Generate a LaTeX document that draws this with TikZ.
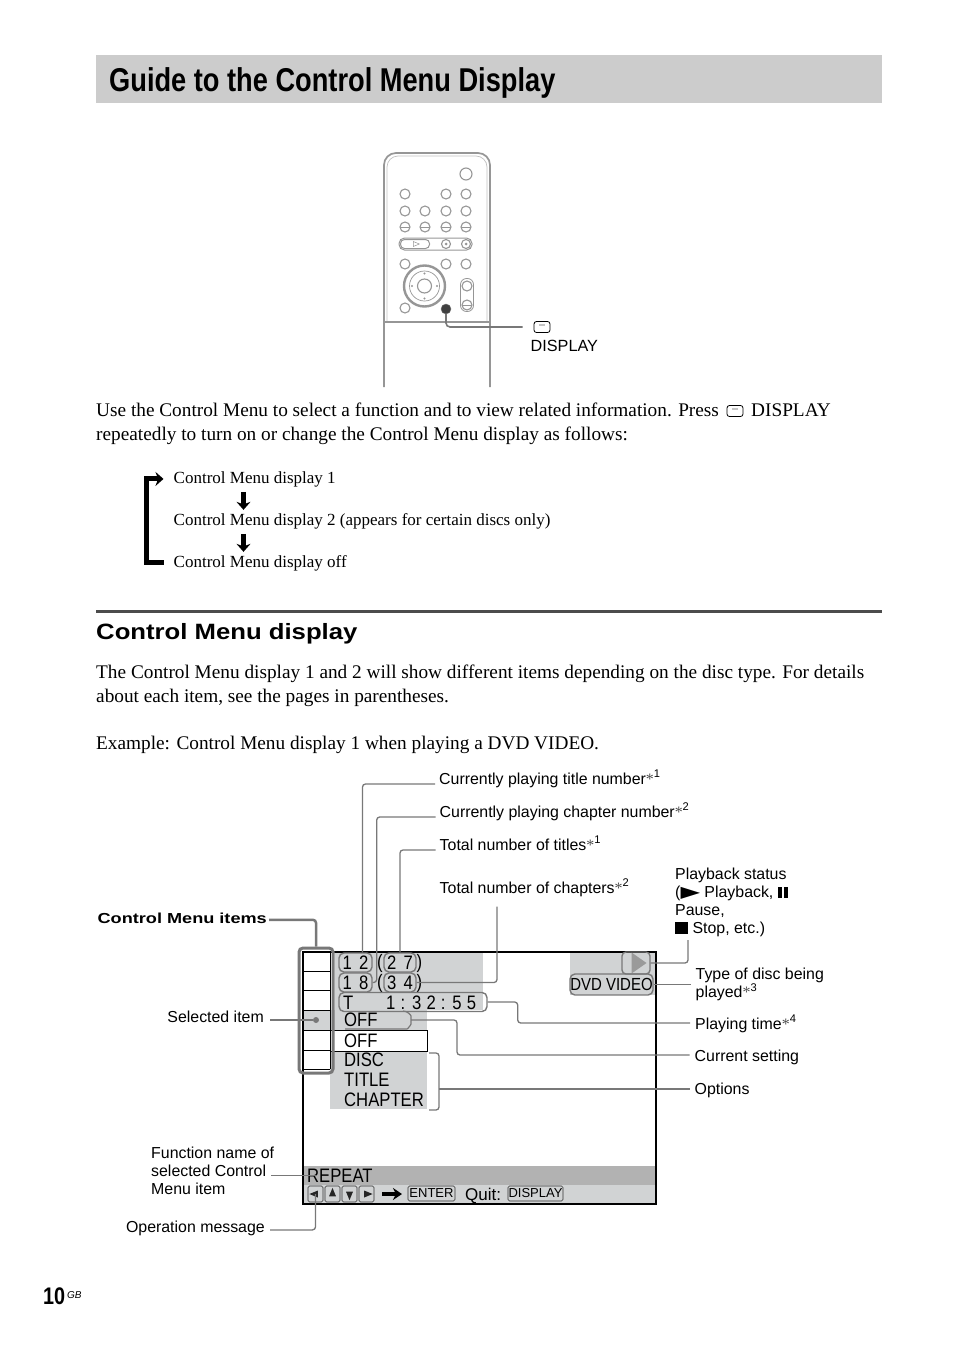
\documentclass[tikz,border=0pt]{standalone}
\usepackage{fontspec}
\setmainfont{Liberation Serif}
\setsansfont{Liberation Sans}
\newfontfamily\titlefont[FakeStretch=0.825]{Liberation Sans}
\newfontfamily\wideheadfont[FakeStretch=1.16]{Liberation Sans}
\newfontfamily\itemsfont[FakeStretch=1.25]{Liberation Sans}
\newfontfamily\osdfont[FakeStretch=0.855]{Liberation Sans}
\newfontfamily\symfont{DejaVu Sans}
\usetikzlibrary{arrows.meta,calc,positioning,shapes.geometric}
\definecolor{BandGray}{RGB}{204,204,204}
\definecolor{LeadGray}{RGB}{120,120,120}
\definecolor{PanelGray}{RGB}{209,211,212}
\definecolor{RepeatGray}{RGB}{178,178,178}
\definecolor{RemoteGray}{RGB}{150,150,150}
\newcommand{\lab}[1]{\fontsize{#1}{18}\selectfont}
\newcommand{\osdgap}{\spaceskip=7.3pt\relax}
\newcommand{\timegap}{\spaceskip=5.2pt\relax}
\newcommand{\noteref}[1]{{\rmfamily\color{black!70}*}\textsuperscript{#1}}

\begin{document}
\begin{tikzpicture}[x=1pt,y=-1pt,>=Stealth]
        \tikzset{
          body/.style={anchor=base west,inner sep=0pt,font=\lab{19.28}\rmfamily},
          flowtext/.style={anchor=base west,inner sep=0pt,font=\lab{17}\rmfamily},
          callout/.style={anchor=base west,inner sep=0pt,align=left,font=\lab{15.9}\sffamily},
          osd/.style={anchor=base west,inner sep=0pt,font=\lab{19.5}\osdfont\osdgap},
          lead/.style={draw=LeadGray,line width=1.3pt,rounded corners=3pt},
          pill/.style={draw=LeadGray,line width=1.4pt,rounded corners=5pt,inner sep=0pt,font=\lab{19.5}\osdfont\osdgap},
          keycap/.style={draw=black!80,line width=.6pt,rounded corners=1.5pt,inner sep=0pt,font=\lab{13}\sffamily},
          navkey/.style={keycap,minimum width=15pt,minimum height=16pt},
          btn/.style={circle,draw=RemoteGray,line width=1.1pt,minimum size=10pt,inner sep=0pt},
          minusbtn/.style={btn,path picture={\draw[RemoteGray,line width=.8pt] (path picture bounding box.west) -- (path picture bounding box.east);}},
          dispicon/.style={draw=black,line width=.8pt,rounded corners=2.5pt,minimum width=16pt,minimum height=11pt,inner sep=0pt,path picture={\foreach \i in {-2,0,2}{\fill ([xshift=\i pt,yshift=2pt]path picture bounding box.center) circle (.55pt);}}},
          flowarrow/.style={-{Stealth[length=8pt,width=14pt]},line width=4.5pt},
        }
        \useasboundingbox (0,0) rectangle (954,1352);
        % heading band
        \node[fill=BandGray,anchor=north west,minimum width=786pt,minimum height=48pt,inner sep=0pt] (band) at (96,55) {};
        \node[anchor=base west,inner sep=0pt,font=\lab{33}\titlefont\bfseries] (title) at (109,91) {Guide to the Control Menu Display};
        % remote
        \draw[RemoteGray,line width=1.7pt] (384,387) -- (384,165) to[out=90,in=180] (396,153) -- (478,153) to[out=0,in=90] (490,165) -- (490,387);
        \draw[RemoteGray!60,line width=.7pt] (387,322) -- (387,167) to[out=90,in=180] (398,156) -- (476,156) to[out=0,in=90] (487,167) -- (487,322);
        \draw[RemoteGray,line width=1.8pt] (384,322) -- (490,322);
        \node[btn,minimum size=12pt] (topbtn) at (466,174) {};
        \foreach \x/\y in {405/194,446/194,466/194,405/211,425/211,446/211,466/211,405/264,446/264,466/264,405/308}{\node[btn] at (\x,\y) {};}
        \foreach \x in {405,425,446,466}{\node[minusbtn] at (\x,227) {};}
        \node[draw=RemoteGray,line width=1pt,rounded corners=5.5pt,minimum width=73pt,minimum height=12pt,inner sep=0pt] (playbar) at (435.5,244) {};
        \node[draw=RemoteGray,line width=1pt,rounded corners=4pt,minimum width=29pt,minimum height=9pt,inner sep=0pt] (playbtn) at (415,244) {};
        \node[isosceles triangle,draw=RemoteGray,line width=.5pt,minimum height=6pt,minimum width=4pt,inner sep=0pt] at (playbtn) {};
        \foreach \x in {446,466}{\node[btn,minimum size=9pt] at (\x,244) {};\node[circle,fill=RemoteGray,minimum size=3pt,inner sep=0pt] at (\x,244) {};}
        \node[circle,draw=RemoteGray,line width=2.4pt,minimum size=41pt,inner sep=0pt] (dial) at (424.5,286) {};
        \node[circle,draw=RemoteGray,line width=.7pt,minimum size=30pt,inner sep=0pt] at (dial) {};
        \node[circle,draw=RemoteGray,line width=1.1pt,minimum size=14pt,inner sep=0pt] at (dial) {};
        \foreach \a in {0,90,180,270}{\fill[RemoteGray] (dial.center) ++(\a:12.5) circle (1.1pt);}
        \node[draw=RemoteGray,line width=.8pt,rounded corners=6pt,minimum width=13pt,minimum height=33pt,inner sep=0pt] (volbar) at (467,295) {};
        \node[btn] at (467,286) {};
        \node[minusbtn] at (467,305) {};
        \node[circle,fill=black!75,draw=black!55,minimum size=10pt,inner sep=0pt] (dispbtn) at (446,309) {};
        \node[dispicon] (remicon) at (542,327) {};
        \node[callout,font=\lab{16.2}\sffamily] (remlabel) at (530.5,351) {DISPLAY};
        \draw[lead,line width=1.6pt,rounded corners=4pt] (dispbtn.south) |- ([xshift=-11pt]remicon.west);
        % intro text
        \node[body] (introa) at (96,416) {Use the Control Menu to select a function and to view related information. Press};
        \node[dispicon] (introicon) at (735,411) {};
        \node[body] (introb) at (751,416) {DISPLAY};
        \node[body] (introc) at (96,440) {repeatedly to turn on or change the Control Menu display as follows:};
        % display cycle
        \node[flowtext] (cyclea) at (173.5,483) {Control Menu display 1};
        \node[flowtext] (cycleb) at (173.5,525) {Control Menu display 2 (appears for certain discs only)};
        \node[flowtext] (cyclec) at (173.5,567) {Control Menu display off};
        \foreach \x/\y in {cyclea/cycleb,cycleb/cyclec}{\draw[flowarrow] ([xshift=70pt,yshift=-5pt]\x.south west) -- ([xshift=70pt,yshift=3pt]\y.north west);}
        \draw[line width=5pt,-{Stealth[length=8pt,width=14pt]}] ([xshift=-10pt]cyclec.west) -- ++(-17.5,0) |- ([xshift=-10pt]cyclea.west);
        % section head
        \draw[black!70,line width=3.5pt] (96,611.5) -- (882,611.5);
        \node[anchor=base west,inner sep=0pt,font=\lab{22.15}\wideheadfont\bfseries] (section) at (96,639) {Control Menu display};
        \node[body] (parta) at (96,678) {The Control Menu display 1 and 2 will show different items depending on the disc type. For details};
        \node[body] (partb) at (96,702) {about each item, see the pages in parentheses.};
        \node[body] (partc) at (96,749) {Example: Control Menu display 1 when playing a DVD VIDEO.};
        % screen panels
        \fill[PanelGray] (335,953) rectangle (483,1010);
        \fill[PanelGray] (330,1010) rectangle (427,1109);
        \fill[PanelGray] (570,953) rectangle (655,995);
        \fill[PanelGray] (304,1185) rectangle (655,1203);
        \fill[RepeatGray] (304,1166) rectangle (655,1185);
        \fill[PanelGray] (304,1010) rectangle (330,1030);
        \foreach \y in {971,990,1010,1030,1050,1069}{\draw[black,line width=.9pt] (303,\y) -- (330,\y);}
        \draw[black,line width=.9pt] (330,952) -- (330,1069);
        \draw[black,line width=1.5pt] (303,952) rectangle (656,1204);
        \node[draw=black,line width=1pt,fill=white,anchor=north west,minimum width=97pt,minimum height=21pt,inner sep=0pt] (setbox) at (330,1030) {};
        % screen text
        \node[pill,minimum width=33pt,minimum height=19pt] (titlenum) at (355.5,962.5) {1 2};
        \node[pill,minimum width=33pt,minimum height=19pt] (chapnum) at (355.5,982.5) {1 8};
        \node[pill,minimum width=32pt,minimum height=19pt] (titletot) at (400,962.5) {2 7};
        \node[pill,minimum width=32pt,minimum height=19pt] (chaptot) at (400,982.5) {3 4};
        \node[osd] (parena) at (377,968) {(};
        \node[osd] (parenb) at (416.5,968) {)};
        \node[osd] (parenc) at (377,988) {(};
        \node[osd] (parend) at (416.5,988) {)};
        \node[pill,minimum width=148pt,minimum height=19pt] (timebox) at (413,1002) {};
        \node[osd] (timet) at (343,1009) {T};
        \node[osd,font=\lab{19.5}\osdfont\timegap] (timeval) at (386,1009) {1 : 3 2 : 5 5};
        \node[osd] (opta) at (344,1026) {OFF};
        \node[osd] (optb) at (344,1047) {OFF};
        \node[osd] (optc) at (344,1066) {DISC};
        \node[osd] (optd) at (344,1086) {TITLE};
        \node[osd] (opte) at (344,1106) {CHAPTER};
        \node[draw=LeadGray,line width=1.4pt,rounded corners=4pt,minimum width=28pt,minimum height=22pt,inner sep=0pt] (playbox) at (636,963) {};
        \node[isosceles triangle,fill=LeadGray!75,minimum height=15pt,minimum width=13pt,inner sep=0pt,isosceles triangle apex angle=70] at (637,963) {};
        \node[pill,minimum width=83pt,minimum height=21pt,font=\lab{17.5}\osdfont] (disctype) at (611.5,984.5) {DVD VIDEO};
        \draw[draw=LeadGray,line width=1.2pt,rounded corners=4pt] (345,1029) -- (403,1029) to[out=0,in=-90] (411,1020) to[out=90,in=0] (403,1011);
        \node[inner sep=0pt,minimum size=0pt] (offpill) at (411,1020) {};
        % bottom bar
        \node[osd] (repeatword) at (307,1182) {REPEAT};
        \foreach \x/\a/\n in {315.5/180/left,332.5/90/up,349.5/-90/down,366.5/0/right}{
          \node[navkey] (nav\n) at (\x,1194) {};
          \node[isosceles triangle,fill=black!85,minimum height=7pt,minimum width=7pt,inner sep=0pt,shape border rotate=\a] at (\x,1194) {};
        }
        \draw[line width=3.5pt,-{Stealth[length=9pt,width=12pt]}] (382,1194) -- (402,1194);
        \node[keycap,minimum width=47pt,minimum height=15pt] (enterkey) at (431.5,1193.5) {ENTER};
        \node[osd,font=\lab{17}\sffamily] (quit) at (465,1200) {Quit:};
        \node[keycap,minimum width=55pt,minimum height=15pt] (displaykey) at (535.5,1193.5) {DISPLAY};
        % items bracket
        \node[draw=LeadGray,line width=3pt,rounded corners=4pt,minimum width=34pt,minimum height=125pt,inner sep=0pt] (itemsbox) at (316,1010.5) {};
        \node[circle,fill=LeadGray,minimum size=6pt,inner sep=0pt] (selectdot) at (316,1020) {};
        % callouts
        \node[callout] (nametitle) at (439,784) {Currently playing title number\noteref{1}};
        \node[callout] (namechap) at (439.5,817) {Currently playing chapter number\noteref{2}};
        \node[callout] (nametot) at (439.5,850) {Total number of titles\noteref{1}};
        \node[callout] (namechaps) at (439.5,893) {Total number of chapters\noteref{2}};
        \node[callout,anchor=north west] (namestatus) at (675,868) {Playback status\\({\symfont\scalebox{1.6}[1]{\char"25B6}} Playback, \rule{4.5pt}{11pt}\hspace{1.5pt}\rule{4.5pt}{11pt}\\Pause,\\\rule{13pt}{12pt} Stop, etc.)};
        \node[callout,anchor=north west] (namedisc) at (695.5,968) {Type of disc being\\played\noteref{3}};
        \node[callout] (nametime) at (695,1029) {Playing time\noteref{4}};
        \node[callout] (namesetting) at (694.5,1061) {Current setting};
        \node[callout] (nameoptions) at (694.5,1094) {Options};
        \node[anchor=base east,inner sep=0pt,font=\lab{14.5}\itemsfont\bfseries] (nameitems) at (267,923) {Control Menu items};
        \node[callout,anchor=base east] (nameselect) at (264,1022) {Selected item};
        \node[callout,anchor=north west] (namefunc) at (151,1147) {Function name of\\selected Control\\Menu item};
        \node[callout,anchor=base east] (namemsg) at (265,1232) {Operation message};
        \draw[lead] ([xshift=7pt]titlenum.north) |- ([xshift=-4pt]nametitle.base west);
        \draw[lead] (chapnum.east) -- ++(4,0) |- ([xshift=-4pt]namechap.base west);
        \draw[lead] (titletot.north) |- ([xshift=-4pt]nametot.base west);
        \draw[lead] (chaptot.east) -| ([xshift=57.5pt,yshift=-10pt]namechaps.south west);
        \draw[lead] (timebox.east) -| ++(30,21) coordinate (timebend) -- ([xshift=-5pt]timebend -| nametime.west);
        \draw[lead] (offpill) -| ++(46,35) coordinate (setbend) -- ([xshift=-5pt]setbend -| namesetting.west);
        \draw[lead] (setbox.south east) ++(1,1) -- ++(10,0) -- ++(0,57) -- ++(-10,0);
        \draw[lead,rounded corners=0pt] ([xshift=11pt,yshift=-37pt]setbox.south east) -- ([xshift=-5pt,yshift=-37pt]setbox.south east -| nameoptions.west);
        \draw[lead] (playbox.east) -| ([xshift=13pt,yshift=-3pt]namestatus.south west);
        \draw[lead] (disctype.east) -- ([xshift=-5pt]disctype.east -| namedisc.west);
        \draw[lead,line width=2.5pt] ([xshift=2pt,yshift=-2pt]nameitems.east) -| (itemsbox.north);
        \draw[lead] ([xshift=6pt]selectdot -| nameselect.east) -- (selectdot);
        \draw[lead] ([xshift=-3pt]repeatword.west -| namefunc.east) -- ([xshift=10pt]repeatword.west);
        \draw[lead] ([xshift=5pt,yshift=-2pt]namemsg.east) -| (navleft.center);
        % folio
        \node[anchor=base west,inner sep=0pt,font=\lab{24}\titlefont\bfseries] (folio) at (43,1304) {10};
        \node[anchor=base west,inner sep=0pt,font=\lab{10}\sffamily\itshape] (foliogb) at (67,1298) {GB};
      \end{tikzpicture}
\end{document}
